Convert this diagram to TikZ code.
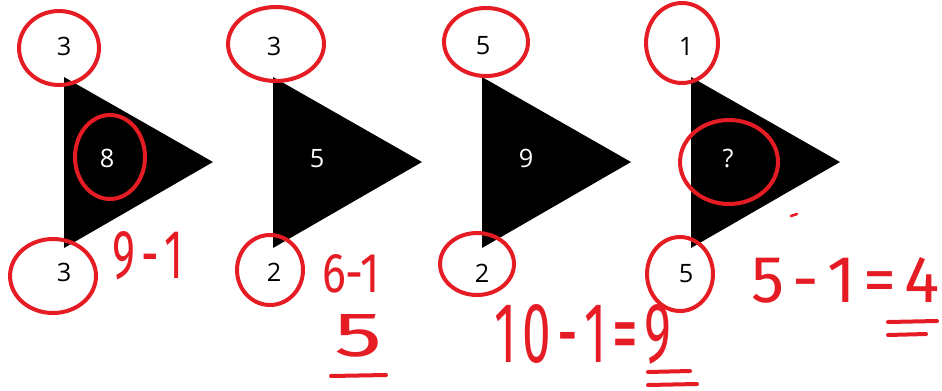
\documentclass[tikz,border=0pt]{standalone}
\usepackage{fontspec}
\usepackage{graphicx}
\setmainfont{Open Sans}
\newfontfamily\handfont{Fira Sans}
\newdimen\pxu \pxu=0.75pt
\definecolor{pen}{RGB}{230,28,36}
\newcommand\hw[3]{\resizebox{#1\pxu}{#2\pxu}{\handfont #3}}
\newcommand\hgap{\kern0.12em}
\begin{document}
\begin{tikzpicture}[x=0.75pt,y=-0.75pt,
  tri/.style={fill=black},
  num/.style={font=\fontsize{19}{19}\selectfont, inner sep=0pt, text=black},
  wnum/.style={num, text=white},
  ink/.style={draw=pen, line width=3pt, line cap=round, line join=round},
  hand/.style={text=pen, inner sep=0pt}]
\useasboundingbox (0,0) rectangle (942,390);
% triangles
\foreach \L [count=\i] in {64,273,482,691}{
  \fill[tri] (\L,77) -- (\L+149,162) -- (\L,248) -- cycle;
}
% numbers
\node[num] (t1) at (64,46) {3};
\node[num] (b1) at (64,272) {3};
\node[wnum] (m1) at (107,158) {8};
\node[num] (t2) at (274,46) {3};
\node[num] (b2) at (274,272) {2};
\node[wnum] (m2) at (317,159) {5};
\node[num] (t3) at (483,46) {5};
\node[num] (b3) at (482,273) {2};
\node[wnum] (m3) at (526,158) {9};
\node[num] (t4) at (686,46) {1};
\node[num] (b4) at (686,274) {5};
\node[wnum] (m4) at (728,159) {?};
% hand-drawn circles
\draw[ink] (t1) ++(-5,2) ++(250:40 and 37) arc[start angle=250, end angle=625, x radius=40, y radius=37];
\draw[ink] (m1) ++(3,-1) ++(60:35 and 42) arc[start angle=60, end angle=435, x radius=35, y radius=42];
\draw[ink] (b1) ++(-11,4) ++(240:43 and 37) arc[start angle=240, end angle=615, x radius=43, y radius=37];
\draw[ink] (t2) ++(2,-2) ++(250:48 and 37) arc[start angle=250, end angle=625, x radius=48, y radius=37];
\draw[ink] (b2) ++(-4,-2) ++(245:33 and 35) arc[start angle=245, end angle=620, x radius=33, y radius=35];
\draw[ink] (t3) ++(3,-4) ++(260:42 and 34) arc[start angle=260, end angle=635, x radius=42, y radius=34];
\draw[ink] (b3) ++(-5,-9) ++(250:37 and 31) arc[start angle=250, end angle=625, x radius=37, y radius=31];
\draw[ink] (t4) ++(-4,-3) ++(245:36 and 40) arc[start angle=245, end angle=620, x radius=36, y radius=40];
\draw[ink] (m4) ++(1,3) ++(265:49 and 42) arc[start angle=265, end angle=640, x radius=49, y radius=42];
\draw[ink] (b4) ++(-6,0) ++(245:33 and 37) arc[start angle=245, end angle=620, x radius=33, y radius=37];
% handwritten notes
\node[hand] (n1) at (148,256) {\hw{70}{47}{9\hgap-\hgap1}};
\node[hand] (n2) at (351,274) {\hw{58}{38}{6-1}};
\node[hand] (n3) at (359,336) {\hw{48}{42}{5}};
\node[hand] (n4) at (583,334) {\hw{177}{58}{1\hgap0\hgap-\hgap1\hgap=\hgap9}};
\node[hand] (n5) at (846,280) {\hw{188}{45}{5\hgap-\hgap1\hgap=\hgap4}};
% underlines
\coordinate (u1a) at (331,376); \coordinate (u1b) at (386,375);
\draw[ink] (u1a) -- (u1b);
\coordinate (u2a) at (648,372); \coordinate (u2b) at (690,371);
\coordinate (u2c) at (648,385); \coordinate (u2d) at (697,384);
\draw[ink] (u2a) -- (u2b);
\draw[ink] (u2c) -- (u2d);
\coordinate (u3a) at (888,322); \coordinate (u3b) at (937,321);
\coordinate (u3c) at (888,335); \coordinate (u3d) at (926,334);
\draw[ink] (u3a) -- (u3b);
\draw[ink] (u3c) -- (u3d);
% small tick
\coordinate (k1) at (791,216); \coordinate (k2) at (797,214);
\draw[ink, line width=2pt] (k1) -- (k2);
\end{tikzpicture}
\end{document}
